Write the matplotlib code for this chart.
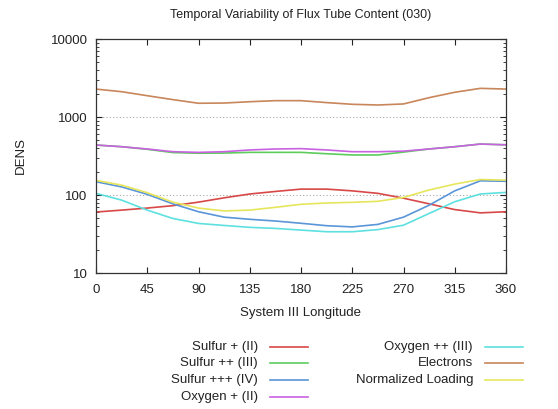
import numpy as np
import matplotlib
matplotlib.use("Agg")
import matplotlib.pyplot as plt
from matplotlib.lines import Line2D
from matplotlib.ticker import LogLocator, NullFormatter, FixedLocator

plt.rcParams['font.family'] = ['Liberation Sans', 'DejaVu Sans']

# System III longitude (deg)
lon = [0, 22.5, 45, 67.5, 90, 112.5, 135, 157.5, 180,
       202.5, 225, 247.5, 270, 292.5, 315, 337.5, 360]

# densities
sulfur_1 = [60.5, 64, 68, 73, 81, 92, 103, 111, 119,
            119, 113, 105, 91, 77, 65, 59, 61]
sulfur_2 = [437, 416, 385, 350, 343, 345, 352, 352, 352,
            338, 326, 326, 355, 389, 416, 450, 440]
sulfur_3 = [148, 127, 102, 77, 61, 52, 48.8, 46.4, 43.4,
            40.4, 39, 42, 52, 74, 113, 152, 150]
oxygen_1 = [437, 416, 389, 359, 352, 359, 378, 389, 393,
            378, 359, 359, 365, 389, 416, 450, 440]
oxygen_2 = [105, 86, 64, 50, 43.2, 40.7, 38.5, 37.3, 35.5,
            33.8, 33.8, 36, 41, 58, 82, 103, 108]
electrons = [2280, 2110, 1875, 1670, 1500, 1510, 1570, 1620, 1620,
             1530, 1455, 1425, 1470, 1770, 2075, 2330, 2280]
norm_loading = [154, 134, 107, 81, 68, 62.5, 64, 69.5, 76,
                79, 80.5, 83, 93, 116, 138, 158, 155]

series = [
    ("Sulfur + (II)", sulfur_1, "#d84848"),
    ("Sulfur ++ (III)", sulfur_2, "#5ccc5c"),
    ("Sulfur +++ (IV)", sulfur_3, "#5a96d8"),
    ("Oxygen + (II)", oxygen_1, "#c862e0"),
    ("Oxygen ++ (III)", oxygen_2, "#5ee0e0"),
    ("Electrons", electrons, "#c8865a"),
    ("Normalized Loading", norm_loading, "#e6e65c"),
]

fig = plt.figure(figsize=(5.58, 4.09), dpi=100)
ax = fig.add_axes([96/558, 1 - 273/409, 410/558, 234/409])

for label, vals, color in series:
    ax.plot(lon, vals, color=color, lw=1.2)

ax.set_yscale('log')
ax.set_xlim(0, 360)
ax.set_ylim(10, 10000)
ax.xaxis.set_major_locator(FixedLocator(np.arange(0, 361, 45)))
ax.yaxis.set_minor_locator(LogLocator(base=10, subs=np.arange(2, 10)))
ax.yaxis.set_minor_formatter(NullFormatter())
ax.set_yticks([10, 100, 1000, 10000])
ax.set_yticklabels(['10', '100', '1000', '10000'])

ax.tick_params(which='both', direction='in', top=True, right=True,
               labelsize=9.5, colors='#222222')
ax.tick_params(axis='x', pad=8)
ax.tick_params(axis='y', pad=6)
ax.tick_params(which='major', length=4, width=0.8)
ax.tick_params(which='minor', length=2, width=0.6)
for s in ax.spines.values():
    s.set_color('#333333')
    s.set_linewidth(0.9)

for g in [100, 1000]:
    ax.axhline(g, color='#aaaaaa', lw=0.8, ls=(0, (1, 2)), zorder=0)

ax.set_title("Temporal Variability of Flux Tube Content (030)",
             fontsize=9, color='#222222', pad=15)
ax.set_xlabel("System III Longitude", fontsize=9.5, color='#222222', labelpad=8)
ax.set_ylabel("DENS", fontsize=9.5, color='#222222', labelpad=17)

# gnuplot-style key below the plot
row_y = [347, 363, 380, 397]
cols = [(258, 270, 308), (473, 485, 523)]
for i, (label, vals, color) in enumerate(series):
    c = 0 if i < 4 else 1
    r = i if i < 4 else i - 4
    tx, x0, x1 = cols[c]
    y = 1 - row_y[r] / 409
    fig.text(tx / 558, y, label, ha='right', va='center',
             fontsize=9.5, color='#222222')
    fig.add_artist(Line2D([x0 / 558, x1 / 558], [y, y], color=color,
                          lw=1.2, transform=fig.transFigure))

fig.savefig("out.png", dpi=100)
